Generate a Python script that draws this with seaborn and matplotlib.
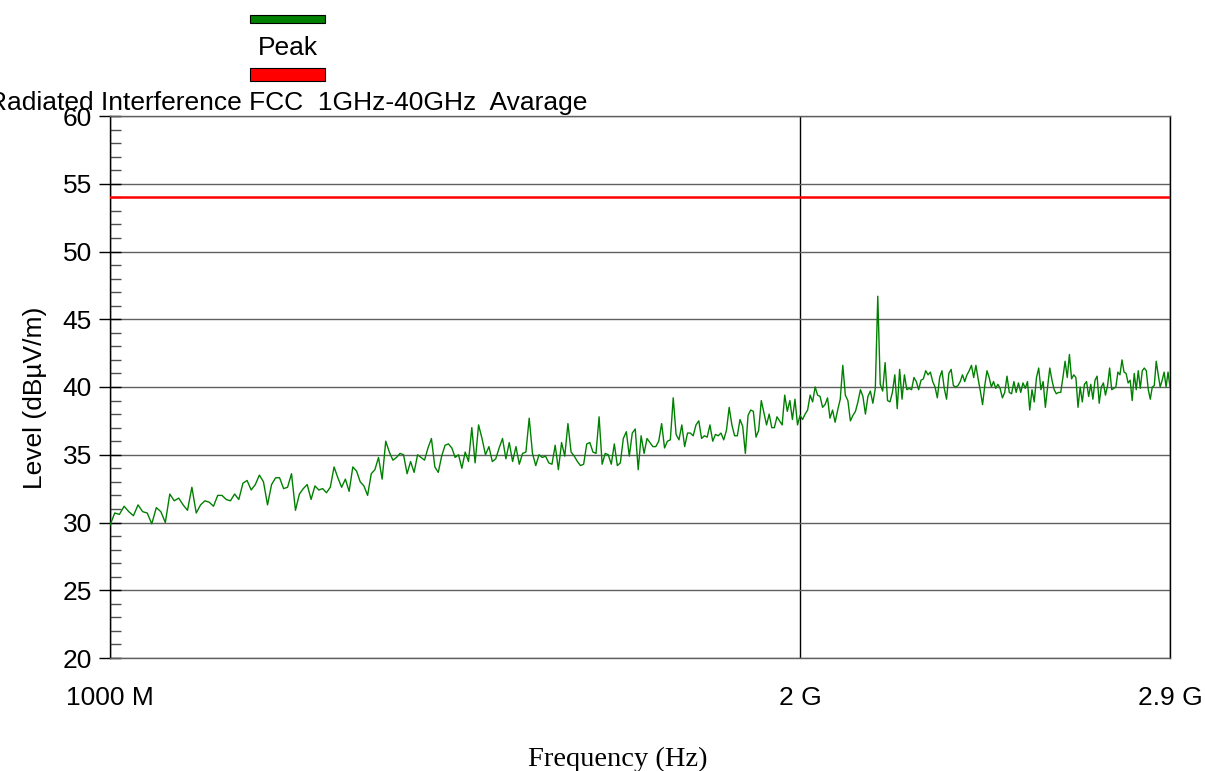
import numpy as np
import pandas as pd
import matplotlib
matplotlib.use("Agg")
import matplotlib.pyplot as plt
from matplotlib.patches import Rectangle
import seaborn as sns

# sweep split in pieces (MHz edges), levels in dBuV/m
seg_edges_mhz = [1000, 1200, 1443, 1720, 2061, 2445, 2900]

peak_seg1 = [29.8, 30.7, 30.6, 31.2, 30.8, 30.5, 31.3, 30.8, 30.7, 29.9, 31.1, 30.8, 30.0, 32.1,
             31.6, 31.8, 31.3, 30.9, 32.6, 30.7, 31.3, 31.6, 31.5, 31.2, 32.0, 32.0, 31.7, 31.6,
             32.1, 31.7, 32.9, 33.1, 32.4, 32.8, 33.5, 33.0, 31.3, 32.8, 33.3, 33.3, 32.5, 32.6]
peak_seg2 = [33.6, 30.9, 32.1, 32.5, 32.8, 31.7, 32.7, 32.4, 32.5, 32.2, 32.6, 34.1, 33.3, 32.6,
             33.2, 32.3, 34.1, 33.8, 33.0, 32.7, 32.0, 33.6, 33.9, 34.8, 33.2, 36.0, 35.2, 34.6,
             34.8, 35.1, 35.0, 33.6, 34.5, 33.7, 35.0, 34.8, 34.6, 35.5, 36.2, 34.1, 33.7, 34.9,
             35.7, 35.8, 35.5, 34.8, 35.0, 34.0, 35.2, 34.5, 37.0]
peak_seg3 = [34.4, 37.2, 36.2, 35.0, 35.6, 34.5, 34.7, 35.5, 36.2, 34.7, 35.9, 34.5, 35.6, 34.3,
             35.1, 35.2, 37.7, 35.1, 34.2, 35.0, 34.8, 34.9, 34.4, 34.3, 35.7, 33.9, 35.9, 34.9,
             37.3, 35.2, 34.9, 34.5, 34.2, 34.3, 35.8, 35.9, 35.2, 35.1, 37.8, 34.3, 35.1, 35.0,
             34.3, 35.8, 34.2, 34.4, 36.2, 36.7, 34.9, 36.6, 36.9, 33.9, 36.4, 35.1, 36.2]
peak_seg4 = [35.9, 35.6, 35.6, 36.0, 37.3, 35.5, 36.0, 36.1, 39.2, 36.5, 36.1, 37.2, 35.6, 36.6,
             36.6, 36.4, 37.2, 37.5, 36.2, 36.4, 36.3, 37.2, 36.0, 36.5, 36.4, 36.6, 36.1, 36.8,
             38.5, 37.2, 36.4, 36.4, 37.6, 37.1, 35.1, 37.9, 38.3, 38.2, 36.3, 36.8, 39.0, 38.1,
             37.2, 38.0, 37.0, 37.0, 37.8, 37.5, 37.2, 39.4, 38.2, 39.0, 37.6, 39.1, 37.2, 37.9,
             37.6, 38.0, 38.3, 39.4, 38.9, 40.0, 39.4, 39.3, 38.5, 38.7, 39.2]
peak_seg5 = [37.7, 38.3, 37.4, 38.3, 39.1, 41.6, 39.4, 39.0, 37.5, 37.9, 38.2, 38.9, 39.8, 39.3,
             38.0, 39.3, 39.7, 38.8, 39.9, 46.7, 40.2, 39.7, 41.8, 39.0, 38.9, 39.6, 40.9, 38.4,
             41.3, 39.1, 40.9, 39.8, 39.9, 39.8, 40.7, 40.4, 39.8, 40.5, 40.6, 41.2, 40.9, 41.1,
             40.4, 40.0, 39.2, 40.7, 41.2, 39.9, 39.1, 41.0, 41.3, 40.1, 40.0, 40.1, 40.4, 40.9,
             40.4, 40.9, 41.2, 41.6, 40.7, 41.6, 40.6, 39.7, 38.7, 40.1, 41.2, 40.7, 40.0, 40.4,
             39.9, 40.2]
peak_seg6 = [39.9, 39.2, 39.6, 40.8, 39.6, 39.5, 40.4, 39.6, 40.3, 39.6, 40.3, 39.9, 40.4, 38.3,
             39.8, 38.9, 40.7, 41.4, 39.8, 40.4, 38.5, 40.0, 41.4, 40.5, 39.8, 39.5, 39.6, 39.6,
             40.7, 41.9, 40.7, 42.4, 40.6, 40.9, 40.7, 38.5, 40.0, 38.9, 40.2, 40.4, 39.3, 40.2,
             39.1, 40.5, 40.8, 38.8, 40.0, 40.3, 39.4, 40.1, 41.4, 39.8, 39.9, 40.0, 41.1, 40.9,
             42.0, 41.1, 41.0, 40.3, 40.5, 39.0, 41.0, 39.8, 41.2, 39.9, 41.2, 41.4, 41.2, 39.8,
             39.1, 40.0, 40.1, 41.9, 40.9, 40.0, 40.5, 41.1, 40.0, 41.1, 40.0]

limit_level = 54.0
x_ticks = [1e9, 2e9, 2.9e9]
x_ticklabels = ["1000 M", "2 G", "2.9 G"]
y_ticks = [20, 25, 30, 35, 40, 45, 50, 55, 60]
legend_peak = "Peak"
legend_limit = "Radiated Interference FCC  1GHz-40GHz  Avarage"

# build the frequency grid for each piece of the sweep
segs = [peak_seg1, peak_seg2, peak_seg3, peak_seg4, peak_seg5, peak_seg6]
freqs = []
for i, seg in enumerate(segs):
    last = i == len(segs) - 1
    f = np.linspace(seg_edges_mhz[i], seg_edges_mhz[i + 1], len(seg), endpoint=last)
    freqs.append(f * 1e6)
df = pd.DataFrame({"freq": np.concatenate(freqs), "level": np.concatenate(segs)})

sns.set_style("white")
plt.rcParams['font.family'] = ['Liberation Sans', 'DejaVu Sans']
plt.rcParams['text.color'] = 'black'
plt.rcParams['xtick.color'] = 'black'
plt.rcParams['ytick.color'] = 'black'
plt.rcParams['xtick.labelcolor'] = 'black'
plt.rcParams['ytick.labelcolor'] = 'black'

FS = 19
W, H = 1205, 771
fig = plt.figure(figsize=(W / 100, H / 100), dpi=100)
ax = fig.add_axes([110 / W, 1 - 658 / H, 1060 / W, 542 / H])

sns.lineplot(data=df, x="freq", y="level", ax=ax, color="#008000", linewidth=1.0, zorder=3)
ax.axhline(limit_level, color="#ff0000", linewidth=1.8, zorder=4)

ax.set_xscale("log")
ax.set_xlim(1e9, 2.9e9)
ax.set_ylim(20, 60)
ax.set_xticks(x_ticks)
ax.set_xticklabels(x_ticklabels)
ax.xaxis.set_minor_locator(matplotlib.ticker.NullLocator())
ax.set_yticks(y_ticks)
ax.set_yticks(np.arange(20, 61, 1), minor=True)
ax.set_xlabel("")
ax.set_ylabel("")

ax.grid(True, axis="y", which="major", color="#606060", linewidth=1.0, zorder=1)
ax.grid(True, axis="x", which="major", color="black", linewidth=1.0, zorder=1)

for s in ["top", "bottom"]:
    ax.spines[s].set_color("#606060")
    ax.spines[s].set_linewidth(1.0)
for s in ["left", "right"]:
    ax.spines[s].set_color("black")
    ax.spines[s].set_linewidth(1.0)

ax.tick_params(axis="x", which="major", direction="out", length=15.5, width=1.0,
               color="black", labelsize=FS, pad=5)
ax.tick_params(axis="y", which="major", direction="inout", length=16, width=1.0,
               color="black", labelsize=FS, pad=5, left=True)
ax.tick_params(axis="y", which="minor", direction="in", length=8, width=1.0,
               color="#505050", left=True)

# legend drawn above the plot area
fig.add_artist(Rectangle((250 / W, 1 - 23 / H), 75 / W, 8 / H, transform=fig.transFigure,
                         facecolor="#008000", edgecolor="black", linewidth=0.8))
fig.text(288 / W, 1 - 55 / H, legend_peak, ha="center", va="baseline", fontsize=FS)
fig.add_artist(Rectangle((250 / W, 1 - 81 / H), 75 / W, 13 / H, transform=fig.transFigure,
                         facecolor="#ff0000", edgecolor="black", linewidth=0.8))
fig.text(288 / W, 1 - 110 / H, legend_limit, ha="center", va="baseline", fontsize=FS)

fig.text(35 / W, 1 - 398 / H, "Level (dBµV/m)", rotation=90, ha="center", va="center", fontsize=FS)
fig.text(618 / W, 1 - 766 / H, "Frequency (Hz)", ha="center", va="baseline", fontsize=20.5,
         family=["Liberation Serif", "DejaVu Serif"])

fig.savefig("out.png", dpi=100)
